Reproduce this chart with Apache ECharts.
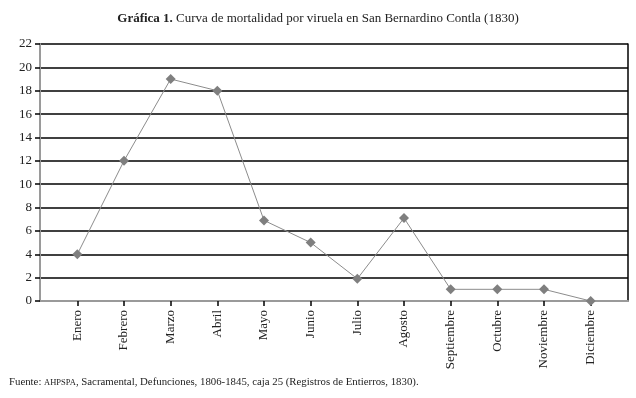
<!DOCTYPE html>
<html>
<head>
<meta charset="utf-8">
<script src="https://cdn.jsdelivr.net/npm/echarts@6/dist/echarts.min.js"></script>
<style>
    html, body { margin: 0; padding: 0; background: #fff; }
    #chart-container { width: 636px; height: 398px; }
</style>
</head>
<body>
<div id="chart-container"></div>
<script>
// meses y defunciones
var months = ['Enero', 'Febrero', 'Marzo', 'Abril', 'Mayo', 'Junio', 'Julio',
    'Agosto', 'Septiembre', 'Octubre', 'Noviembre', 'Diciembre'];
var deaths = [4, 12, 19, 18, 6.9, 5, 1.9, 7.1, 1, 1, 1, 0];
var yTicks = [0, 2, 4, 6, 8, 10, 12, 14, 16, 18, 20, 22];

var serif = '"Liberation Serif", "DejaVu Serif", serif';

var chartDom = document.getElementById('chart-container');
var myChart = echarts.init(chartDom);
var option;

var points = deaths.map(function (v, i) { return [i, v]; });
var monthIdx = months.map(function (m, i) { return i; });

option = {
    animation: false,
    title: {
        text: '{b|Gráfica 1.} Curva de mortalidad por viruela en San Bernardino Contla (1830)',
        left: 'center',
        top: 7,
        textStyle: {
            fontFamily: serif,
            fontSize: 13,
            fontWeight: 'normal',
            color: '#222',
            rich: {
                b: { fontFamily: serif, fontSize: 13, fontWeight: 'bold', color: '#222' }
            }
        }
    },
    graphic: [
        {
            type: 'text',
            left: 9,
            top: 377,
            style: {
                text: 'Fuente: {s|AHPSPA}, Sacramental, Defunciones, 1806-1845, caja 25 (Registros de Entierros, 1830).',
                font: '10.8px ' + serif,
                fill: '#222',
                rich: {
                    s: { fontSize: 8.5, fontFamily: serif, fill: '#222' }
                }
            }
        }
    ],
    grid: {
        left: 40,
        right: 8,
        top: 44,
        bottom: 97
    },
    xAxis: {
        type: 'value',
        min: -0.8,
        max: 11.8,
        axisLine: { show: true, onZero: false, lineStyle: { color: '#9a9a9a', width: 2 } },
        axisTick: {
            show: true,
            length: 5,
            customValues: monthIdx,
            lineStyle: { color: '#000', width: 1.5 }
        },
        axisLabel: {
            customValues: monthIdx,
            rotate: 90,
            margin: 9,
            fontFamily: serif,
            fontSize: 13,
            color: '#222',
            formatter: function (value) {
                return months[Math.round(value)];
            }
        },
        splitLine: { show: false }
    },
    yAxis: [
        {
            type: 'value',
            min: 0,
            max: 22,
            interval: 2,
            axisLine: { show: true, onZero: false, lineStyle: { color: '#9a9a9a', width: 2 } },
            axisTick: { show: true, length: 5, lineStyle: { color: '#000', width: 1.5 } },
            axisLabel: {
                margin: 8,
                fontFamily: serif,
                fontSize: 13,
                color: '#222',
                customValues: yTicks
            },
            splitLine: { show: true, lineStyle: { color: '#000', width: 1.5 } }
        },
        {
            type: 'value',
            position: 'right',
            min: 0,
            max: 22,
            interval: 2,
            axisLine: { show: true, onZero: false, lineStyle: { color: '#000', width: 1.5 } },
            axisTick: { show: false },
            axisLabel: { show: false },
            splitLine: { show: false }
        }
    ],
    series: [
        {
            type: 'line',
            data: points,
            symbol: 'diamond',
            symbolSize: 10,
            itemStyle: { color: '#7f7f7f' },
            lineStyle: { color: '#8c8c8c', width: 1 },
            z: 5
        }
    ]
};

option && myChart.setOption(option);
</script>
</body>
</html>
